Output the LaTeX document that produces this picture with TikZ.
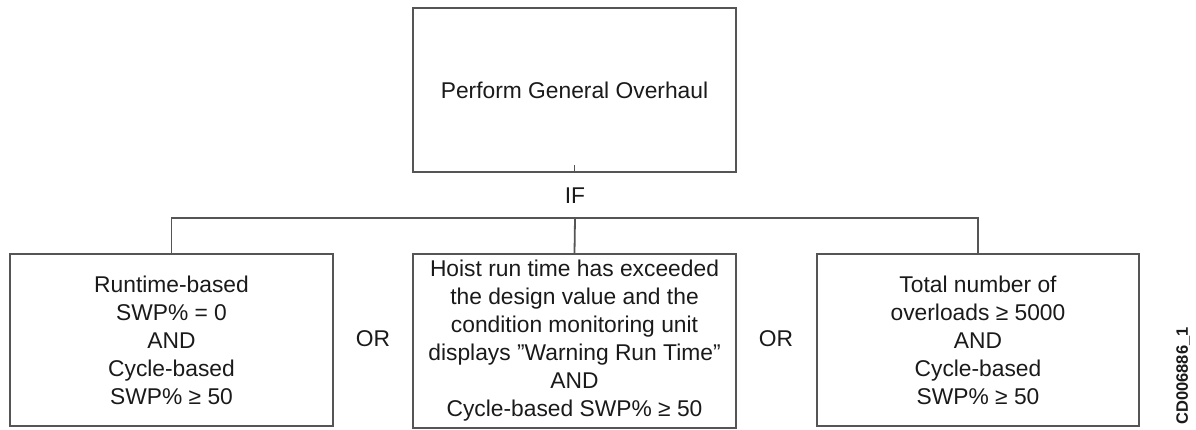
\documentclass[tikz,border=0pt]{standalone}
\usepackage{fontspec}
\setmainfont{Liberation Sans}
\definecolor{linec}{HTML}{555555}
\definecolor{textc}{HTML}{1A1A1A}
\begin{document}
\begin{tikzpicture}[x=1pt,y=-1pt,
  box/.style={draw=linec, line width=2pt, minimum width=323pt, inner sep=0pt, align=center, text=textc,
    font=\fontsize{22.8}{28}\selectfont},
  lbl/.style={inner sep=0pt, text=textc, font=\fontsize{22.8}{28}\selectfont},
  conn/.style={draw=linec, line width=1.8pt}]
\useasboundingbox (0,0) rectangle (1196,430);
\node[box, minimum height=164pt] (top) at (574.5,90) {Perform General Overhaul};
\node[lbl] (if) at (575,196) {IF};
\node[box, minimum height=172pt] (left) at (171.5,340) {Runtime-based\\SWP\% = 0\\AND\\Cycle-based\\SWP\% ≥ 50};
\node[box, minimum height=174pt] (mid) at (574.5,341) {Hoist run time has exceeded\\the design value and the\\condition monitoring unit\\displays ”Warning Run Time”\\AND\\Cycle-based SWP\% ≥ 50};
\node[box, minimum width=322pt, minimum height=172pt] (right) at (978,340) {Total number of\\overloads ≥ 5000\\AND\\Cycle-based\\SWP\% ≥ 50};
\node[lbl] (or1) at (373,339) {OR};
\node[lbl] (or2) at (776,339) {OR};
\node[inner sep=0pt, rotate=90, text=textc, font=\fontsize{16.5}{16.5}\selectfont\bfseries] (code) at (1183,376) {CD006886\_1};
\coordinate (j) at (575,218);
\draw[conn] (top.south) -- ([yshift=8pt]top.south);
\draw[conn] ([yshift=-8pt]j) -- (j) -- (mid.north);
\draw[conn] (left.north) -- (left.north |- j) -- (right.north |- j) -- (right.north);
\end{tikzpicture}
\end{document}
